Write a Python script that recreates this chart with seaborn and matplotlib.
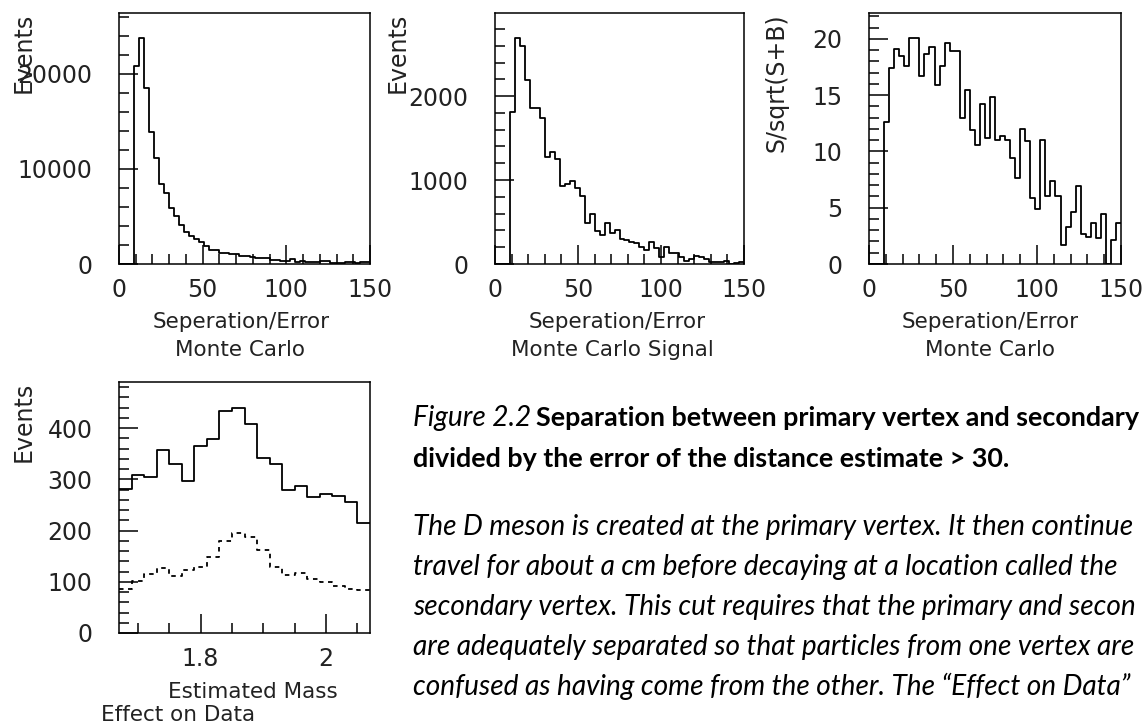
import numpy as np
import pandas as pd
import matplotlib
matplotlib.use("Agg")
import matplotlib.pyplot as plt
import seaborn as sns
from matplotlib.ticker import MultipleLocator

# Bin edges
sep_edges = np.arange(0, 151, 3)
mass_edges = np.round(np.linspace(1.67, 2.07, 21), 3)

# Separation/Error, Monte Carlo (all)
mc_all = [0, 0, 0, 20800, 23800, 18500, 13900, 11200, 8450, 7470,
          5860, 5090, 4110, 3400, 2980, 2600, 2280, 1900, 1500, 1450,
          1150, 1120, 1100, 1080, 840, 800, 780, 600, 590, 580,
          420, 410, 320, 310, 490, 210, 350, 180, 180, 170,
          280, 270, 140, 140, 70, 210, 200, 70, 160, 160]

# Separation/Error, Monte Carlo signal
mc_signal = [0, 0, 0, 1806, 2687, 2591, 2190, 1853, 1853, 1734,
             1278, 1333, 1250, 929, 952, 992, 901, 813, 484, 591,
             397, 345, 484, 373, 400, 300, 290, 265, 246, 206,
             167, 265, 187, 87, 198, 127, 127, 79, 36, 56,
             95, 80, 56, 28, 28, 28, 36, 0, 16, 28]

# S/sqrt(S+B) versus cut value
signif = [0, 0, 0, 12.6, 17.4, 19.1, 18.5, 17.6, 20.1, 20.1,
          16.7, 18.7, 19.3, 15.9, 17.6, 19.6, 18.9, 18.9, 13.0, 15.5,
          11.9, 10.6, 14.2, 11.2, 14.8, 11.0, 11.4, 11.0, 9.4, 7.6,
          12.0, 10.9, 5.9, 4.9, 11.0, 6.0, 7.4, 6.0, 1.7, 3.3,
          4.6, 6.9, 2.7, 2.4, 3.6, 2.3, 4.4, 0, 2.1, 3.6]

# Estimated mass, data before (solid) and after (dashed) the cut
data_all = [281, 308, 304, 358, 330, 297, 366, 378, 433, 440,
            408, 341, 330, 279, 287, 265, 272, 268, 255, 215]
data_cut = [85, 101, 116, 127, 111, 123, 129, 149, 180, 196,
            188, 162, 128, 113, 118, 105, 100, 92, 85, 83]

caption_head = "Figure 2.2"
caption_bold = ["Separation between primary vertex and secondary",
                "divided by the error of the distance estimate > 30."]
caption_body = ["The D meson is created at the primary vertex. It then continue",
                "travel for about a cm before decaying at a location called the",
                "secondary vertex. This cut requires that the primary and secon",
                "are adequately separated so that particles from one vertex are",
                "confused as having come from the other. The \u201cEffect on Data\u201d"]

sns.set_theme(style="white")
plt.rcParams["font.family"] = ["DejaVu Sans"]

W, H = 1146, 728
fig = plt.figure(figsize=(W / 100, H / 100), dpi=100)
ink = "#222222"


def px_axes(x0, y0, x1, y1):
    return fig.add_axes([x0 / W, 1 - y1 / H, (x1 - x0) / W, (y1 - y0) / H])


def paw_style(ax, xmaj, xmin, ymaj, ymin, xlim, ylim):
    ax.set_xlim(*xlim)
    ax.set_ylim(*ylim)
    ax.xaxis.set_major_locator(MultipleLocator(xmaj))
    ax.xaxis.set_minor_locator(MultipleLocator(xmin))
    ax.yaxis.set_major_locator(MultipleLocator(ymaj))
    ax.yaxis.set_minor_locator(MultipleLocator(ymin))
    ax.tick_params(which="both", direction="in", top=False, right=False,
                   bottom=True, left=True,
                   color="black", width=1.1, labelcolor=ink, labelsize=17)
    ax.tick_params(which="major", length=13.5)
    ax.tick_params(which="minor", length=7)
    ax.tick_params(axis="y", pad=19)
    ax.tick_params(axis="x", pad=10)
    for s in ax.spines.values():
        s.set_visible(True)
        s.set_color("black")
        s.set_linewidth(1.1)
    ax.set_xlabel("")
    ax.set_ylabel("")
    ax.grid(False)


def hist(ax, edges, values, **kw):
    edges = np.asarray(edges, dtype=float)
    df = pd.DataFrame({"center": (edges[:-1] + edges[1:]) / 2,
                       "value": np.asarray(values, dtype=float)})
    sns.histplot(data=df, x="center", weights="value", bins=list(edges),
                 element="step", fill=False, color="black", linewidth=1.3,
                 ax=ax, **kw)


def ytitle(ax, x_px, text):
    bb = ax.get_position()
    fig.text(x_px / W, bb.y1, text, rotation=90, ha="center", va="top",
             fontsize=17, color=ink)


def xtitle(x_px, y_px, text):
    fig.text(x_px / W, 1 - y_px / H, text, ha="center", va="center",
             fontsize=15.5, color=ink)


# Panel 1
ax1 = px_axes(119, 13, 370, 264)
hist(ax1, sep_edges, mc_all)
paw_style(ax1, 50, 10, 10000, 2000, (0, 150), (0, 26400))
ytitle(ax1, 24, "Events")
xtitle(241, 322, "Seperation/Error")
xtitle(240, 350, "Monte Carlo")

# Panel 2
ax2 = px_axes(495, 13, 744, 264)
hist(ax2, sep_edges, mc_signal)
paw_style(ax2, 50, 10, 1000, 200, (0, 150), (0, 2990))
ytitle(ax2, 398, "Events")
xtitle(617, 322, "Seperation/Error")
xtitle(612, 350, "Monte Carlo Signal")

# Panel 3
ax3 = px_axes(869, 13, 1121, 264)
hist(ax3, sep_edges, signif)
paw_style(ax3, 50, 10, 5, 1, (0, 150), (0, 22.3))
ytitle(ax3, 776, "S/sqrt(S+B)")
xtitle(990, 322, "Seperation/Error")
xtitle(990, 350, "Monte Carlo")

# Panel 4
ax4 = px_axes(119, 382, 370, 633)
hist(ax4, mass_edges, data_all)
hist(ax4, mass_edges, data_cut, linestyle=(0, (2.5, 2.5)))
paw_style(ax4, 0.2, 0.05, 100, 20, (1.67, 2.07), (0, 490))
ax4.xaxis.set_major_formatter(plt.FuncFormatter(lambda v, p: f"{v:g}"))
ytitle(ax4, 24, "Events")
xtitle(253, 692, "Estimated Mass")
xtitle(178, 715, "Effect on Data")

# Caption text
cap_font = "Lato"
it_size = 20.2
bd_size = 19.4
x0 = 413
t1 = fig.text(x0 / W, 1 - 426 / H, caption_head, fontstyle="italic",
              fontfamily=cap_font, fontsize=it_size, color="black", va="baseline")
fig.canvas.draw()
bb = t1.get_window_extent()
fig.text((bb.x1 + 5) / W, 1 - 426 / H, caption_bold[0], fontweight="bold",
         fontfamily=cap_font, fontsize=bd_size, color="black", va="baseline")
fig.text(x0 / W, 1 - 467 / H, caption_bold[1], fontweight="bold",
         fontfamily=cap_font, fontsize=bd_size, color="black", va="baseline")
for i, line in enumerate(caption_body):
    fig.text(x0 / W, 1 - (535 + 40 * i) / H, line, fontstyle="italic",
             fontfamily=cap_font, fontsize=it_size, color="black", va="baseline")

fig.savefig("out.png", dpi=100)
